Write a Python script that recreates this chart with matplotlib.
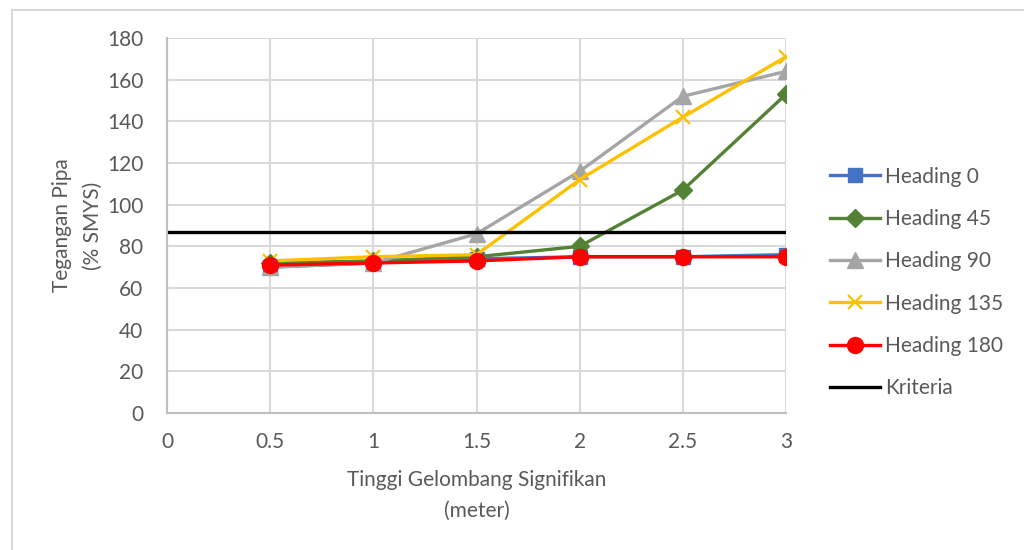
import matplotlib.pyplot as plt
from matplotlib.patches import Rectangle

plt.rcParams['font.family'] = ['Lato', 'DejaVu Sans']

# tinggi gelombang (m) dan tegangan pipa (% SMYS)
hs = [0.5, 1, 1.5, 2, 2.5, 3]
heading_0 = [70, 72, 74, 75, 75, 76]
heading_45 = [72, 73, 75, 80, 107, 153]
heading_90 = [70, 72, 86, 116, 152, 164]
heading_135 = [73, 75, 76, 112, 142, 171]
heading_180 = [71, 72, 73, 75, 75, 75]
kriteria_x = [0, 3]
kriteria = [87, 87]

fs = 15
txt = '#595959'

fig = plt.figure(figsize=(10.24, 5.5), dpi=100)
ax = fig.add_axes([167 / 1024, 1 - 413 / 550, (786 - 167) / 1024, (413 - 38) / 550])

# bingkai chart
fig.patches.append(Rectangle((12 / 1024, -0.1), 1.2, 1 - 10 / 550 + 0.1,
                             transform=fig.transFigure, fill=False,
                             edgecolor='#D9D9D9', lw=1.5))

ax.plot(hs, heading_0, color='#4472C4', lw=2.4, marker='s', ms=10, label='Heading 0')
ax.plot(hs, heading_45, color='#548235', lw=2.4, marker='D', ms=9, label='Heading 45')
ax.plot(hs, heading_90, color='#A5A5A5', lw=2.4, marker='^', ms=11, label='Heading 90')
ax.plot(hs, heading_135, color='#FFC000', lw=2.4, marker='x', ms=10, mew=1.6, label='Heading 135')
ax.plot(hs, heading_180, color='#FF0000', lw=2.4, marker='o', ms=11.5, label='Heading 180')
ax.plot(kriteria_x, kriteria, color='black', lw=2.4, label='Kriteria')

ax.set_xlim(0, 3)
ax.set_ylim(0, 180)
ax.set_xticks([0, 0.5, 1, 1.5, 2, 2.5, 3])
ax.set_xticklabels(['0', '0.5', '1', '1.5', '2', '2.5', '3'])
ax.set_yticks(range(0, 181, 20))
ax.grid(True, color='#D9D9D9', lw=1.5)
ax.set_axisbelow(True)
for s in ['top', 'right']:
    ax.spines[s].set_visible(False)
for s in ['left', 'bottom']:
    ax.spines[s].set_color('#BFBFBF')
    ax.spines[s].set_linewidth(1.5)
ax.tick_params(axis='y', length=0, labelsize=fs, labelcolor=txt, pad=17)
ax.tick_params(axis='x', length=0, labelsize=fs, labelcolor=txt, pad=14)

ax.set_xlabel('Tinggi Gelombang Signifikan\n(meter)', fontsize=fs, color=txt,
              labelpad=12.5, linespacing=1.7)
ax.set_ylabel('Tegangan Pipa\n(% SMYS)', fontsize=fs, color=txt,
              labelpad=3, linespacing=1.7)

leg = ax.legend(loc='center left', frameon=False,
                fontsize=fs, handlelength=2.4, handletextpad=0.25, labelspacing=1.07,
                borderaxespad=0)
leg.set_bbox_to_anchor((1.058, 0.348), transform=ax.transAxes)
for t in leg.get_texts():
    t.set_color(txt)

fig.savefig('out.png', dpi=100)
